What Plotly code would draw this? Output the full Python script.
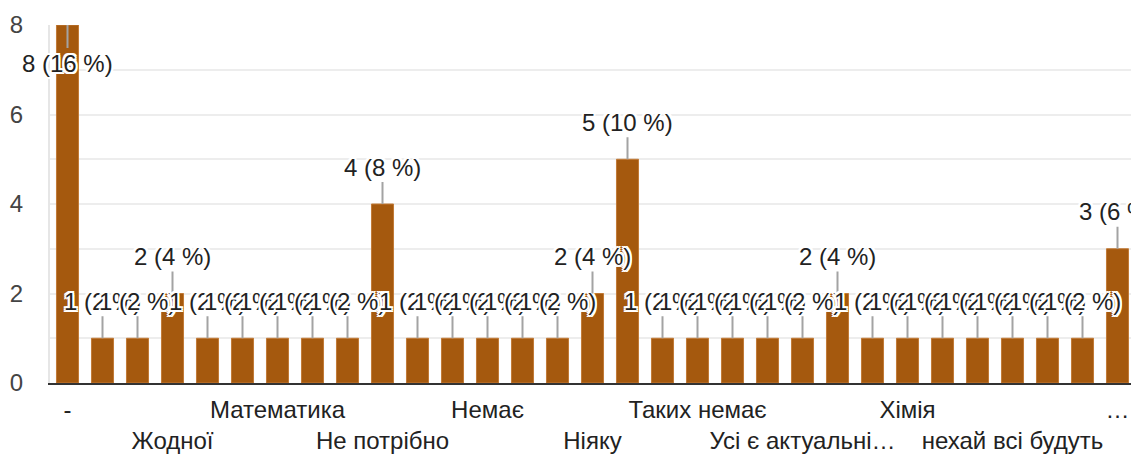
import plotly.graph_objects as go

# ---- data ----
categories = ["-", "Біологія", "Всі потрібні", "Жодної", "Захист України", "Література",
              "Математика", "Мистецтво", "Музика", "Не потрібно", "Не хочу відмовлятися",
              "Нема таких", "Немає", "Ні", "Ніякий", "Ніяку", "Основи здоров'я",
              "Правознавство", "Таких немає", "Трудове навчання", "Усі важливі",
              "Усі є актуальні…", "Фізика", "Фізкультура", "Хімія", "Читання", "Я не знаю",
              "нехай всі будуть", "ніяку", "усі потрібні", "…"]
counts = [8, 1, 1, 2, 1, 1, 1, 1, 1, 4, 1, 1, 1, 1, 1, 2, 5, 1, 1, 1, 1, 1, 2, 1, 1, 1, 1, 1, 1, 1, 3]
shown_ticks = ["-", "Жодної", "Математика", "Не потрібно", "Немає", "Ніяку",
               "Таких немає", "Усі є актуальні…", "Хімія", "нехай всі будуть", "…"]
y_ticks = [0, 1, 2, 3, 4, 5, 6, 7, 8]
y_ticktext = ["0", "", "2", "", "4", "", "6", "", "8"]

total = sum(counts)
FONT = "Arial, 'Liberation Sans', sans-serif"
BAR = "#a5590e"

fig = go.Figure()
fig.add_trace(go.Bar(
    x=categories, y=counts,
    marker=dict(color=BAR, line=dict(color="#c27a36", width=1)),
    hoverinfo="skip",
))

halo = ("-2px -2px 0 #fff, 2px -2px 0 #fff, -2px 2px 0 #fff, 2px 2px 0 #fff, "
        "0 -2px 0 #fff, 0 2px 0 #fff, -2px 0 0 #fff, 2px 0 0 #fff")
ymax = max(counts)
for cat, c in zip(categories, counts):
    label = f"{c} ({round(c / total * 100)} %)"
    off = 38 if c == ymax else -37
    fig.add_annotation(
        x=cat, y=c, text=label, showarrow=True, ax=0, ay=off,
        arrowhead=0, arrowwidth=2, arrowcolor="#a3a3a3", standoff=0,
        font=dict(family=FONT, size=24, color="#222222", shadow=halo),
    )

tick_text = [t if k % 2 == 0 else "<br>" + t for k, t in enumerate(shown_ticks)]

fig.update_layout(
    width=1139, height=454,
    margin=dict(l=42, r=12, t=17, b=79, autoexpand=False),
    paper_bgcolor="white", plot_bgcolor="white",
    showlegend=False, bargap=0.37,
    font=dict(family=FONT, size=24, color="#222222"),
)
fig.update_xaxes(
    type="category", range=[-0.5, len(categories) - 0.5],
    tickvals=shown_ticks, ticktext=tick_text, tickangle=0, automargin=False,
    showline=True, linecolor="#333333", linewidth=2,
    showgrid=False, ticks="", ticklabelstandoff=4,
    tickfont=dict(family=FONT, size=24, color="#222222"),
)
fig.update_yaxes(
    range=[0, 8], tickvals=y_ticks, ticktext=y_ticktext, automargin=False,
    showgrid=True, gridcolor="#ededed", gridwidth=2,
    showline=True, linecolor="#e6e6e6", linewidth=2,
    zeroline=False, ticks="", ticklabelstandoff=20,
    tickfont=dict(family=FONT, size=24, color="#444444"),
)

fig.write_html("out.html")
